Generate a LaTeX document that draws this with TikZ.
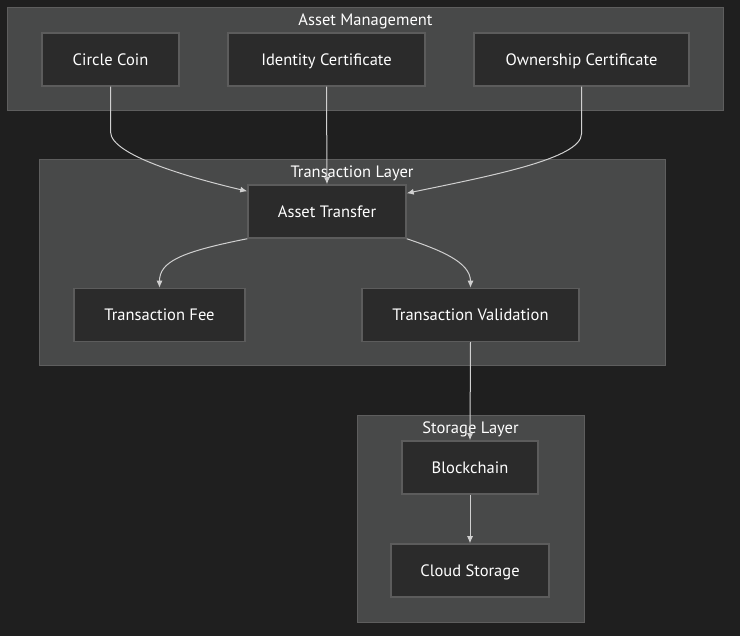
\documentclass[tikz,border=0pt]{standalone}
\usepackage{fontspec}
\setmainfont{PT Sans}
\usetikzlibrary{arrows.meta}
\definecolor{bgcol}{HTML}{1F1F1F}
\definecolor{groupfill}{HTML}{484949}
\definecolor{groupline}{HTML}{5E5E5E}
\definecolor{boxfill}{HTML}{2B2B2B}
\definecolor{boxline}{HTML}{5C5C5C}
\definecolor{linkcol}{HTML}{D0D0D0}

\begin{document}
\begin{tikzpicture}[x=1pt,y=-1pt,
        every node/.style={font=\fontsize{16.5}{19}\selectfont, text=white, text height=12pt, text depth=0pt},
        group/.style={draw=groupline, fill=groupfill, line width=1pt, inner sep=0pt},
        box/.style={draw=boxline, fill=boxfill, line width=1.5pt, inner sep=0pt, minimum height=53pt},
        link/.style={draw=linkcol, line width=1pt, -{Latex[length=7pt,width=6pt]}}]
        % background and page size
        \fill[bgcol] (0,0) rectangle (740,636);
        \useasboundingbox (0,0) rectangle (740,636);
        % draw the three layers
        \node[group, minimum width=716pt, minimum height=103pt] (assetgrp) at (365.5,59) {};
        \node[group, minimum width=626pt, minimum height=206pt] (transgrp) at (352,263) {};
        \node[group, minimum width=227pt, minimum height=206pt] (storegrp) at (470.5,519) {};
        \node (assettitle) at (365.5,19.5) {Asset Management};
        \node (transtitle) at (352,171.5) {Transaction Layer};
        \node (storetitle) at (470.5,427.5) {Storage Layer};
        % boxes of the asset layer
        \foreach \name/\x/\w/\txt in {
            coin/110.5/137/Circle Coin,
            ident/326.5/197/Identity Certificate,
            owner/581.5/215/Ownership Certificate}
                \node[box, minimum width=\w pt] (\name) at (\x,59.5) {\txt};
        % boxes of the transaction layer
        \node[box, minimum width=158pt] (transfer) at (327,211.5) {Asset Transfer};
        \node[box, minimum width=171pt] (fee) at (159.5,315) {Transaction Fee};
        \node[box, minimum width=217pt] (valid) at (470.5,315) {Transaction Validation};
        % boxes of the storage layer
        \node[box, minimum width=136pt] (chain) at (470,467.5) {Blockchain};
        \node[box, minimum width=158pt] (cloud) at (470,570.5) {Cloud Storage};
        % links into the asset transfer
        \draw[link] (coin.south) -- ++(0,45) .. controls +(0,25) and (200,180) .. ([yshift=-7pt]transfer.north west);
        \draw[link] (ident.south) -- (transfer.north);
        \draw[link] (owner.south) -- ++(0,47) .. controls +(0,25) and (490,176) .. ([yshift=-9pt]transfer.north east);
        % links out of the asset transfer
        \draw[link] (transfer.south west) .. controls (180,252) and (159.5,262) .. (fee.north);
        \draw[link] (transfer.south east) .. controls (440,250) and (470.5,262) .. (valid.north);
        % links down to storage
        \draw[link] (valid.south) -- (chain.north);
        \draw[link] (chain.south) -- (cloud.north);
\end{tikzpicture}
\end{document}
